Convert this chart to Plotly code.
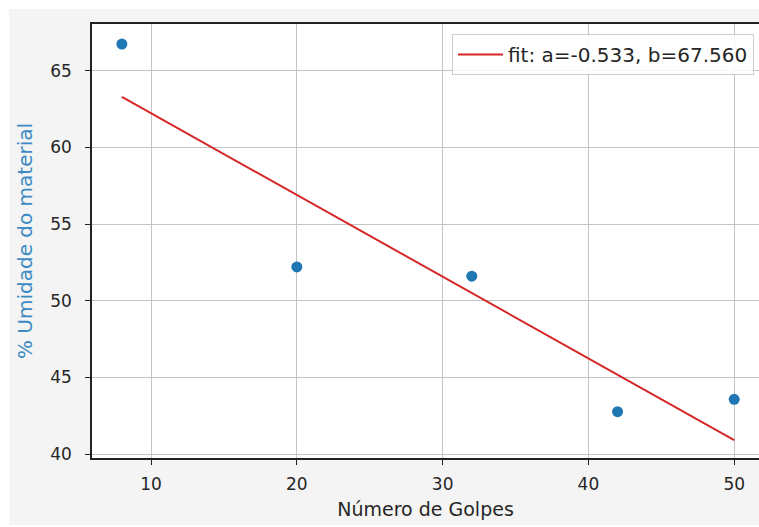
import plotly.graph_objects as go

# Data
golpes = [8, 20, 32, 42, 50]
umidade = [66.74, 52.2, 51.6, 42.76, 43.57]
fit_a = -0.533
fit_b = 67.560
fit_x = [8, 50]
fit_y = [fit_a * x + fit_b for x in fit_x]
x_ticks = [10, 20, 30, 40, 50]
y_ticks = [40, 45, 50, 55, 60, 65]

W, H = 759, 527
L, R, T, B = 92, 0, 24, 69
pw, ph = W - L - R, H - T - B

def px_x(p):
    return (p - L) / pw

def px_y(p):
    return (H - B - p) / ph

fig = go.Figure()
fig.add_trace(go.Scatter(
    x=golpes, y=umidade, mode="markers",
    marker=dict(color="#1f77b4", size=11),
    showlegend=False,
))
fig.add_trace(go.Scatter(
    x=fit_x, y=fit_y, mode="lines",
    line=dict(color="#d62728", width=2),
    name="fit: a=%.3f, b=%.3f" % (fit_a, fit_b),
))

fig.update_layout(
    width=W, height=H,
    margin=dict(l=L, r=R, t=T, b=B, pad=0),
    paper_bgcolor="white",
    plot_bgcolor="white",
    font=dict(family="DejaVu Sans", color="#262626", size=17),
    shapes=[
        dict(type="rect", xref="paper", yref="paper",
             x0=px_x(9), x1=1.0, y0=px_y(525), y1=px_y(9),
             fillcolor="#f4f4f4", line=dict(width=0), layer="below"),
        dict(type="rect", xref="paper", yref="paper",
             x0=0, x1=1.0, y0=0, y1=1,
             fillcolor="white", line=dict(width=0), layer="below"),
    ],
    legend=dict(
        x=px_x(754), y=px_y(34), xanchor="right", yanchor="top",
        bgcolor="rgba(255,255,255,0.85)", bordercolor="#cccccc", borderwidth=1,
        font=dict(size=20, color="#262626"), itemwidth=45,
    ),
)
fig.update_xaxes(
    range=[5.95, 51.7], tickvals=x_ticks,
    showgrid=True, gridcolor="#c4c4c4", gridwidth=1,
    showline=True, linecolor="#222222", linewidth=1.5, mirror=True,
    ticks="outside", ticklen=5, tickcolor="#222222",
    tickfont=dict(size=17), ticklabelstandoff=5,
    zeroline=False,
    title=dict(text="Número de Golpes", font=dict(size=19, color="#262626"), standoff=10),
)
fig.update_yaxes(
    range=[39.74, 68.05], tickvals=y_ticks,
    showgrid=True, gridcolor="#c4c4c4", gridwidth=1,
    showline=True, linecolor="#222222", linewidth=1.5, mirror=False,
    ticks="outside", ticklen=5, tickcolor="#222222",
    tickfont=dict(size=17), ticklabelstandoff=10,
    zeroline=False,
    title=dict(text="% Umidade do material", font=dict(size=20, color="#3d8bc4"), standoff=12),
)

fig.write_html(
    "out.html",
    config={"displayModeBar": False},
    post_script="document.body.style.margin='0px';document.body.style.overflow='hidden';",
)
